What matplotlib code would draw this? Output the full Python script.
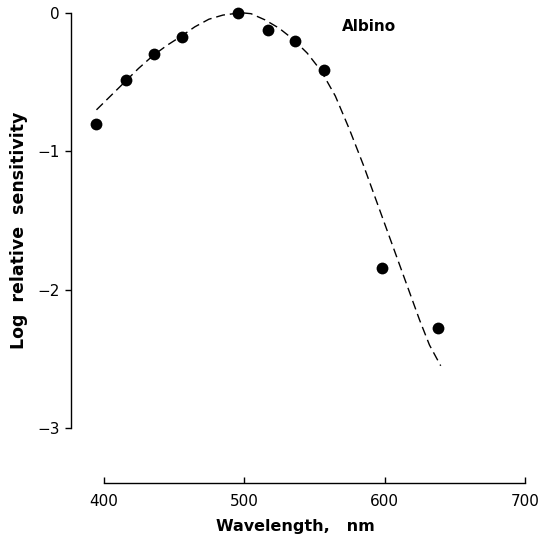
import matplotlib
matplotlib.use("Agg")
import matplotlib.pyplot as plt

# Measured sensitivities (albino eye)
wavelength_nm = [395, 416, 436, 456, 496, 517, 536, 557, 598, 638]
log_sensitivity = [-0.80, -0.485, -0.30, -0.17, 0.0, -0.12, -0.20, -0.41, -1.84, -2.28]

# Template spectral sensitivity curve (dashed)
curve_nm = [395, 405, 415, 425, 435, 445, 455, 465, 475, 485, 495, 500, 505,
            515, 525, 535, 545, 555, 565, 575, 585, 595, 605, 615, 625, 632, 640]
curve_log = [-0.70, -0.60, -0.50, -0.40, -0.31, -0.235, -0.17, -0.10, -0.045,
             -0.015, -0.002, 0.0, -0.005, -0.05, -0.11, -0.19, -0.29, -0.42,
             -0.60, -0.84, -1.10, -1.38, -1.66, -1.94, -2.22, -2.40, -2.55]

x_ticks = [400, 500, 600, 700]
x_ticklabels = ["400", "500", "600", "700"]
y_ticks = [0, -1, -2, -3]
y_ticklabels = ["0", "\u22121", "\u22122", "\u22123"]

plt.rcParams["lines.scale_dashes"] = False
plt.rcParams["font.family"] = "DejaVu Sans"

W, H = 541, 542
fig = plt.figure(figsize=(W / 100, H / 100), dpi=100)
left_px, right_px, top_px, bottom_px = 71, 540, 6, 483
ax = fig.add_axes([left_px / W, 1 - bottom_px / H,
                   (right_px - left_px) / W, (bottom_px - top_px) / H])

px_per_nm = (525 - 103.5) / 300.0
px_per_unit = (428 - 13) / 3.0
x_lo = 400 - (103.5 - left_px) / px_per_nm
x_hi = 700 + (right_px - 525) / px_per_nm
y_hi = (13 - top_px) / px_per_unit
y_lo = -3 - (bottom_px - 428) / px_per_unit
ax.set_xlim(x_lo, x_hi)
ax.set_ylim(y_lo, y_hi)

ax.plot(curve_nm, curve_log, color="black", lw=1.0, dashes=(6.5, 3.5))
ax.plot(wavelength_nm, log_sensitivity, "o", color="black", ms=8.5,
        markeredgewidth=0)

for side in ("top", "right"):
    ax.spines[side].set_visible(False)
ax.spines["left"].set_bounds(-3, 0)
ax.spines["bottom"].set_bounds(400, 700)
ax.spines["left"].set_linewidth(1.0)
ax.spines["bottom"].set_linewidth(1.0)

ax.set_xticks(x_ticks)
ax.set_xticklabels(x_ticklabels)
ax.set_yticks(y_ticks)
ax.set_yticklabels(y_ticklabels)
ax.tick_params(axis="x", direction="in", length=4, width=1.0, pad=8,
               labelsize=11)
ax.tick_params(axis="y", direction="out", length=4, width=1.0, pad=4,
               labelsize=11)

ax.text(570, -0.10, "Albino", fontsize=11, fontweight="bold",
        va="center", ha="left")

fig.text(295 / W, 1 - 527 / H, "Wavelength,   nm", fontsize=11.5,
         fontweight="bold", ha="center", va="center")
fig.text(19 / W, 1 - 230 / H, "Log  relative  sensitivity", fontsize=12.5,
         fontweight="bold", ha="center", va="center", rotation=90)

fig.savefig("out.png", dpi=100)
